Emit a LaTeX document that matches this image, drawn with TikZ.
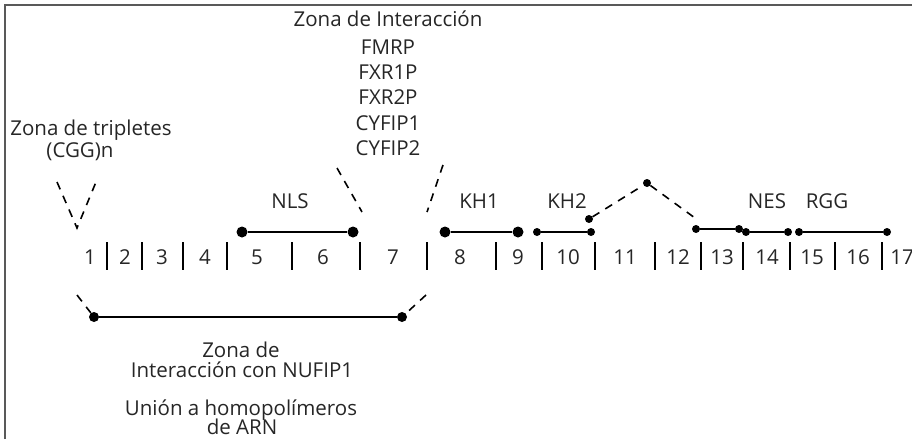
\documentclass[tikz,border=0pt]{standalone}
\usepackage{fontspec}
\setmainfont{Open Sans}
\begin{document}
\begin{tikzpicture}[x=1pt,y=-1pt,
  lbl/.style={font=\fontsize{20.5}{24}\selectfont, inner sep=0pt, anchor=base, text=black!85},
  tickline/.style={line width=1.8pt},
  dom/.style={line width=2pt},
  dsh/.style={line width=1.6pt, dash pattern=on 8pt off 7pt},
  bigdot/.style={circle, fill, inner sep=0pt, minimum size=11pt},
  smalldot/.style={circle, fill, inner sep=0pt, minimum size=8pt}]
\useasboundingbox (0,0) rectangle (912,439);
\draw[black!65, line width=1.5pt] (5,439) -- (5,5) -- (912,5);

% top labels
\node[lbl] (zi) at (388,27) {Zona de Interacción};
\node[lbl] (fmrp) at (388,54) {FMRP};
\node[lbl] (fxr1) at (388,79) {FXR1P};
\node[lbl] (fxr2) at (388,104) {FXR2P};
\node[lbl] (cy1) at (388,130) {CYFIP1};
\node[lbl] (cy2) at (388,155) {CYFIP2};
\node[lbl] (zt) at (91,135) {Zona de tripletes};
\node[lbl] (cgg) at (80,157) {(CGG)n};

% domain labels
\node[lbl] (nls) at (290,208) {NLS};
\node[lbl] (kh1) at (479,208) {KH1};
\node[lbl] (kh2) at (567,208) {KH2};
\node[lbl] (nes) at (767,208) {NES};
\node[lbl] (rgg) at (827,208) {RGG};

% numbers
\foreach \n/\x in {1/90,2/125,3/162,4/205,5/257,6/323,7/393,8/460,9/518,10/568,11/625,12/678,13/722,14/767,15/812,16/858,17/902}
  \node[lbl] (num\n) at (\x,264) {\n};
\foreach \x in {107,142,183,227,292,360,427,496,542,595,655,701,743,790,835,882}
  \draw[tickline] (\x,242) -- (\x,270);

% bottom labels
\node[lbl] (zd) at (241,357) {Zona de};
\node[lbl] (inu) at (242,377) {Interacción con NUFIP1};
\node[lbl] (uh) at (241,415) {Unión a homopolímeros};
\node[lbl] (arn) at (242,434) {de ARN};

% domain dots
\node[bigdot] (n5) at (242,232) {};
\node[bigdot] (n6) at (353,232) {};
\node[bigdot] (k1a) at (445,232) {};
\node[bigdot] (k1b) at (518,232) {};
\node[smalldot] (k2a) at (537,232) {};
\node[smalldot] (k2b) at (591,232) {};
\node[smalldot] (d1) at (589,219) {};
\node[smalldot] (d2) at (647,183) {};
\coordinate (d3) at (695,218);
\node[smalldot] (e1) at (696,229) {};
\node[smalldot] (e2) at (739,229) {};
\node[smalldot] (f1) at (746,232) {};
\node[smalldot] (f2) at (788,232) {};
\node[smalldot] (g1) at (799,232) {};
\node[smalldot] (g2) at (887,232) {};
\node[bigdot, minimum size=10pt] (u1) at (94,317) {};
\node[bigdot, minimum size=10pt] (u2) at (402,317) {};

\draw[dom] (n5) -- (n6);
\draw[dom] (k1a) -- (k1b);
\draw[dom] (k2a) -- (k2b);
\draw[dom] (e1) -- (e2);
\draw[dom] (f1) -- (f2);
\draw[dom] (g1) -- (g2);
\draw[line width=2.6pt] (u1) -- (u2);
\draw[dsh] (d1) -- (d2) -- (d3);

% dashed guides
\coordinate (vl) at (57,182);
\coordinate (vr) at (96,182);
\coordinate (vb) at (77,228);
\draw[dsh] (vl) -- (vb) -- (vr);
\coordinate (il1) at (337,168);
\coordinate (il2) at (362,212);
\coordinate (ir1) at (443,165);
\coordinate (ir2) at (427,212);
\draw[dsh] (il1) -- (il2);
\draw[dsh] (ir1) -- (ir2);
\coordinate (ul) at (77,295);
\coordinate (ur) at (426,295);
\draw[dsh] (ul) -- (u1);
\draw[dsh] (ur) -- (u2);
\end{tikzpicture}
\end{document}
